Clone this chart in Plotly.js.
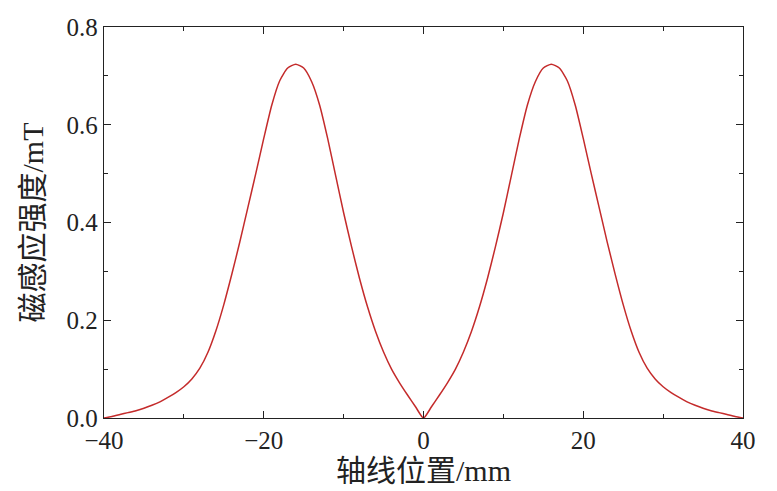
<!DOCTYPE html>
<html>
<head>
<meta charset="utf-8">
<script src="https://cdn.plot.ly/plotly-3.0.1.min.js"></script>
<style>html,body{margin:0;padding:0;background:#fff;}#chart{width:777px;height:491px;}</style>
</head>
<body>
<div id="chart"></div>
<script>
// Axial position (mm)
const positionMm = [-40,-39,-38,-37,-36,-35,-34,-33,-32,-31,-30,-29,-28,-27,-26,-25,-24,-23,-22,-21,-20,-19,-18,-17,-16,-15,-14,-13,-12,-11,-10,-9,-8,-7,-6,-5,-4,-3,-2,-1,0,
  1,2,3,4,5,6,7,8,9,10,11,12,13,14,15,16,17,18,19,20,21,22,23,24,25,26,27,28,29,30,31,32,33,34,35,36,37,38,39,40];
// Magnetic flux density (mT)
const fluxDensity = [0.000,0.003,0.007,0.011,0.015,0.020,0.026,0.033,0.042,0.052,0.064,0.080,0.102,0.134,0.178,0.232,0.294,0.360,0.430,0.500,0.572,0.640,0.690,0.716,0.724,0.716,0.688,0.640,0.572,0.496,0.420,0.350,0.285,0.227,0.177,0.135,0.100,0.072,0.047,0.023,0.000,
  0.023,0.047,0.072,0.100,0.135,0.177,0.227,0.285,0.350,0.420,0.496,0.572,0.640,0.688,0.716,0.724,0.716,0.690,0.640,0.572,0.500,0.430,0.360,0.294,0.232,0.178,0.134,0.102,0.080,0.064,0.052,0.042,0.033,0.026,0.020,0.015,0.011,0.007,0.003,0.000];

const xTitle = '轴线位置/mm';
const yTitle = '磁感应强度/mT';

const tickFamily = 'Liberation Serif';
const titleFamily = 'Liberation Serif, Noto Sans CJK SC';

const axisCommon = {
  showline: true, linecolor: '#222', linewidth: 1.3, mirror: 'ticks',
  ticks: 'inside', ticklen: 7, tickwidth: 1.2, tickcolor: '#222',
  showgrid: false, zeroline: false,
  tickfont: {family: tickFamily, size: 25, color: '#222'}
};

const data = [{
  x: positionMm, y: fluxDensity, type: 'scatter', mode: 'lines',
  line: {color: '#c42b2b', width: 1.5, shape: 'spline', smoothing: 0.6},
  hoverinfo: 'x+y'
}];

const layout = {
  width: 777, height: 491,
  margin: {l: 104, r: 34, t: 27, b: 73},
  paper_bgcolor: '#fff', plot_bgcolor: '#fff',
  font: {family: tickFamily},
  showlegend: false,
  xaxis: Object.assign({}, axisCommon, {
    range: [-40, 40], dtick: 20, tick0: 0,
    minor: {ticks: 'inside', ticklen: 4, dtick: 10, tickwidth: 1.2, tickcolor: '#222'},
    title: {text: xTitle, font: {family: titleFamily, size: 30, color: '#222'}, standoff: 2}
  }),
  yaxis: Object.assign({}, axisCommon, {
    range: [0, 0.8], dtick: 0.2, tick0: 0, tickformat: '.1f',
    minor: {ticks: 'inside', ticklen: 4, dtick: 0.1, tickwidth: 1.2, tickcolor: '#222'},
    title: {text: yTitle, font: {family: titleFamily, size: 30, color: '#222'}, standoff: 14}
  })
};

Plotly.newPlot('chart', data, layout, {displayModeBar: false, staticPlot: true});
</script>
</body>
</html>
